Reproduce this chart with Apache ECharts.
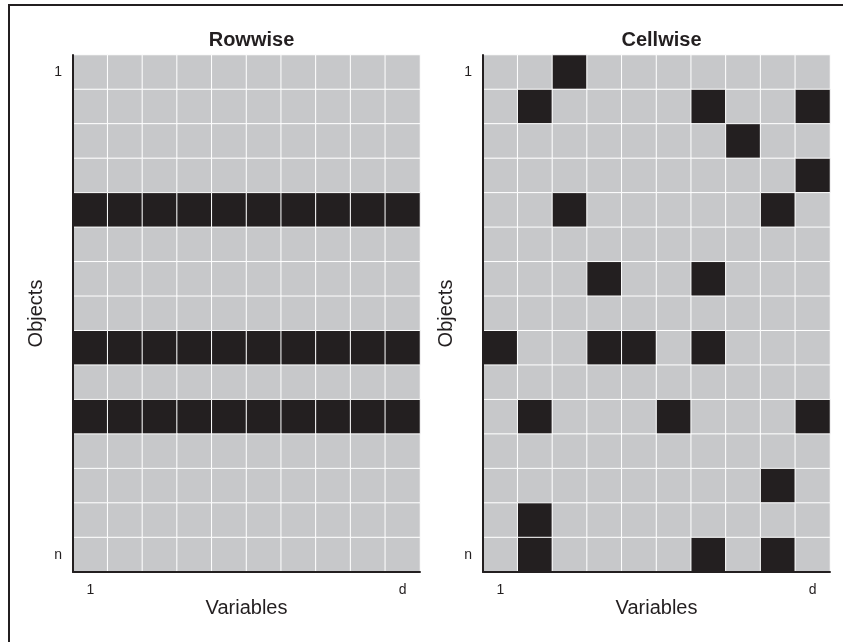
<!DOCTYPE html>
<html><head><meta charset="utf-8">
<script src="https://cdn.jsdelivr.net/npm/echarts@6/dist/echarts.min.js"></script>
<style>html,body{margin:0;padding:0;background:#fff}#c{width:843px;height:642px}</style>
</head><body><div id="c"></div>
<script>
const variables = ['1','','','','','','','','','d'];
const objects = ['1','','','','','','','','','','','','','','n'];
const panelTitles = ['Rowwise','Cellwise'];
// rows (1-based) that are entirely outlying in the rowwise panel
const rowwiseRows = [5, 9, 11];
// [row, column] (1-based) outlying cells in the cellwise panel
const cellwiseCells = [
  [1,3],
  [2,2],[2,7],[2,10],
  [3,8],
  [4,10],
  [5,3],[5,9],
  [7,4],[7,7],
  [9,1],[9,4],[9,5],[9,7],
  [11,2],[11,6],[11,10],
  [13,9],
  [14,2],
  [15,2],[15,7],[15,9]
];

function buildRowwise(){
  const d=[];
  for(let r=0;r<objects.length;r++)for(let c=0;c<variables.length;c++)
    d.push([c,r,rowwiseRows.includes(r+1)?1:0]);
  return d;
}
function buildCellwise(){
  const d=[];
  for(let r=0;r<objects.length;r++)for(let c=0;c<variables.length;c++)
    d.push([c,r,cellwiseCells.some(p=>p[0]===r+1&&p[1]===c+1)?1:0]);
  return d;
}

const FONT='Liberation Sans, Arial, sans-serif';
const grids=[{left:73,top:55,width:347,height:517},{left:483,top:55,width:347,height:517}];
const axisLine={show:true,onZero:false,lineStyle:{color:'#231f20',width:2}};
const chart=echarts.init(document.getElementById('c'),null,{renderer:'canvas'});
chart.setOption({
  animation:false,
  title:panelTitles.map((t,i)=>({text:t,left:grids[i].left+grids[i].width/2,top:25,textAlign:'center',
    textStyle:{fontFamily:FONT,fontSize:20,fontWeight:'bold',color:'#231f20'}})),
  grid:grids,
  xAxis:grids.map((g,i)=>({type:'category',gridIndex:i,data:variables,z:10,
    axisLine:axisLine,axisTick:{show:false},splitLine:{show:false},
    axisLabel:{interval:0,margin:11,fontFamily:FONT,fontSize:14,color:'#231f20'},
    name:'Variables',nameLocation:'middle',nameGap:26,nameMoveOverlap:false,
    nameTextStyle:{fontFamily:FONT,fontSize:20,color:'#231f20'}})),
  yAxis:grids.map((g,i)=>({type:'category',gridIndex:i,data:objects,inverse:true,z:10,
    axisLine:axisLine,axisTick:{show:false},splitLine:{show:false},
    axisLabel:{interval:0,margin:11,fontFamily:FONT,fontSize:14,color:'#231f20'},
    name:'Objects',nameLocation:'middle',nameGap:27,nameMoveOverlap:false,
    nameTextStyle:{fontFamily:FONT,fontSize:20,color:'#231f20'}})),
  visualMap:{show:false,type:'piecewise',dimension:2,seriesIndex:[0,1],
    pieces:[{value:0,color:'#c7c8ca'},{value:1,color:'#231f20'}]},
  series:[
    {type:'heatmap',xAxisIndex:0,yAxisIndex:0,data:buildRowwise(),z:1,
      itemStyle:{borderColor:'#ffffff',borderWidth:1}},
    {type:'heatmap',xAxisIndex:1,yAxisIndex:1,data:buildCellwise(),z:1,
      itemStyle:{borderColor:'#ffffff',borderWidth:1}}
  ],
  graphic:[
    {type:'line',shape:{x1:8,y1:5,x2:843,y2:5},style:{stroke:'#231f20',lineWidth:2}},
    {type:'line',shape:{x1:9,y1:4,x2:9,y2:642},style:{stroke:'#231f20',lineWidth:2}}
  ]
});
</script></body></html>
